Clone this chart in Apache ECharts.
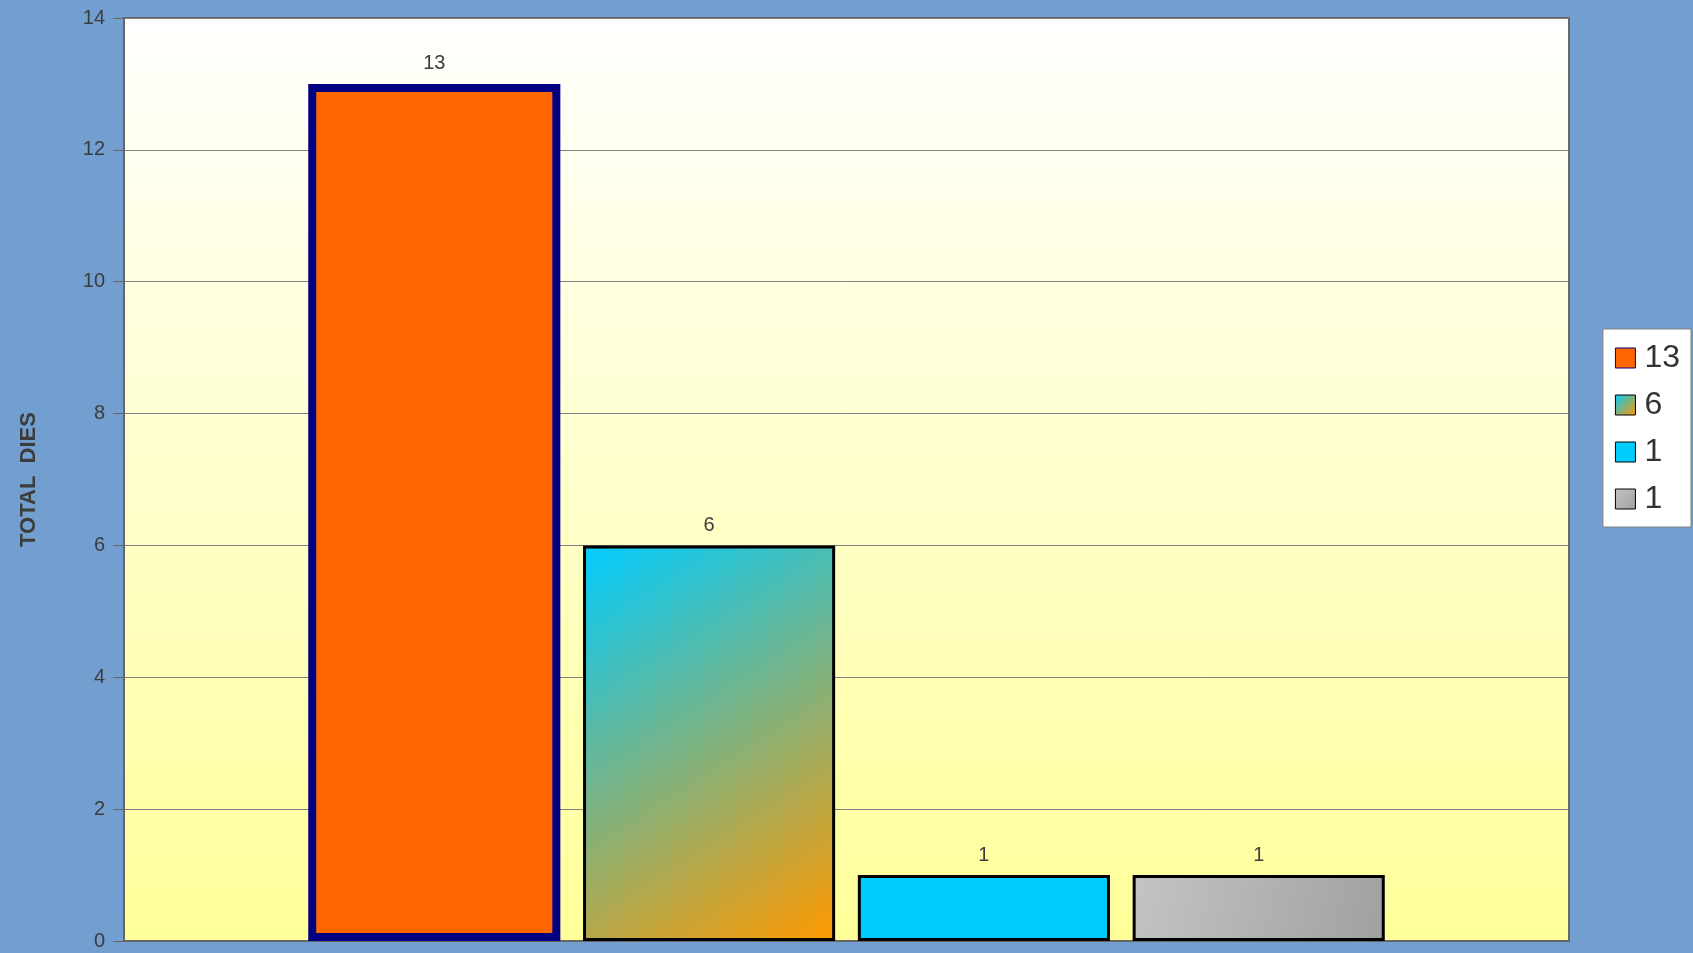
<!DOCTYPE html>
<html>
<head>
<meta charset="utf-8">
<script src="https://cdn.jsdelivr.net/npm/echarts@6/dist/echarts.min.js"></script>
<style>
  html, body { margin: 0; padding: 0; background: #729fcf; }
  #charts { width: 1693px; height: 953px; }
</style>
</head>
<body>
<div id="charts"></div>
<script>
    // chart data
    var categories = ['DIES'];
    var seriesLabels = ['13', '6', '1', '1'];
    var seriesValues = [13, 6, 1, 1];
    var yTicks = [0, 2, 4, 6, 8, 10, 12, 14];

    var font = 'Liberation Sans';
    var G = echarts.graphic.LinearGradient;

    // look of each bar
    var barStyles = [
        { color: '#ff6600', borderColor: '#000080', borderWidth: 8 },
        { color: new G(0, 0, 1, 1, [{ offset: 0, color: '#00ccff' }, { offset: 1, color: '#ff9900' }]), borderColor: '#000', borderWidth: 3 },
        { color: '#00ccff', borderColor: '#000', borderWidth: 3 },
        { color: new G(0, 0, 1, 1, [{ offset: 0, color: '#c4c4c4' }, { offset: 1, color: '#a0a0a0' }]), borderColor: '#000', borderWidth: 3 }
    ];

    var series = seriesValues.map(function (v, i) {
        return {
            name: 's' + i,
            type: 'bar',
            data: [v],
            barGap: '9%',
            barCategoryGap: '25.5%',
            itemStyle: barStyles[i],
            label: {
                show: true,
                position: 'top',
                distance: 10,
                color: '#3c3c3c',
                fontFamily: font,
                fontSize: 20
            }
        };
    });

    var myCharts = echarts.init(document.getElementById('charts'));
    myCharts.setOption({
        backgroundColor: '#729fcf',
        animation: false,
        grid: {
            left: 124, right: 124, top: 18, bottom: 12,
            show: true,
            borderColor: '#666',
            borderWidth: 2,
            backgroundColor: new G(0, 0, 0, 1, [{ offset: 0, color: '#ffffff' }, { offset: 1, color: '#ffff99' }])
        },
        legend: {
            orient: 'vertical',
            right: 2,
            top: 329,
            padding: [13, 11, 12, 12],
            backgroundColor: '#fff',
            borderColor: '#808080',
            borderWidth: 1,
            itemWidth: 20,
            itemHeight: 20,
            itemGap: 15,
            icon: 'rect',
            itemStyle: { borderWidth: 1 },
            textStyle: { fontFamily: font, fontSize: 32, color: '#333', padding: [0, 0, 0, 4] },
            formatter: function (name) {
                return seriesLabels[+name.slice(1)];
            },
            data: series.map(function (s) { return s.name; })
        },
        xAxis: {
            type: 'category',
            data: categories,
            axisLine: { show: true, lineStyle: { color: '#666', width: 2 } },
            axisTick: { show: false },
            axisLabel: { show: false }
        },
        yAxis: {
            type: 'value',
            min: yTicks[0],
            max: yTicks[yTicks.length - 1],
            interval: 2,
            name: 'TOTAL  DIES',
            nameLocation: 'middle',
            nameGap: 84,
            nameTextStyle: { fontFamily: font, fontSize: 22, fontWeight: 'bold', color: '#3c3c3c' },
            axisLine: { show: true, lineStyle: { color: '#666', width: 2 } },
            axisTick: { show: true, length: 11, lineStyle: { color: '#666' } },
            axisLabel: { fontFamily: font, fontSize: 20, color: '#3c3c3c', margin: 19 },
            splitLine: { lineStyle: { color: '#808080', width: 1 } }
        },
        series: series
    });
</script>
</body>
</html>
